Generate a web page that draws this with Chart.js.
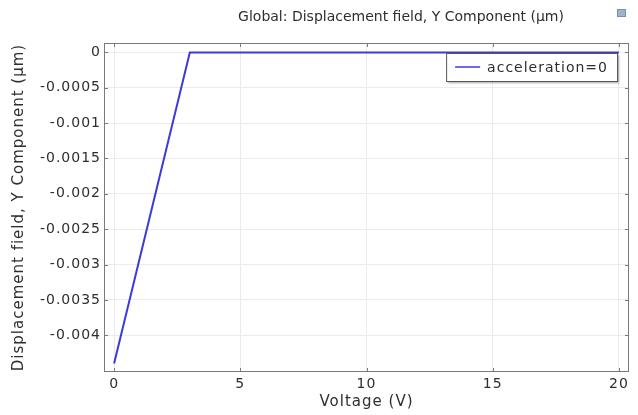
<!DOCTYPE html>
<html>
<head>
<meta charset="utf-8">
<script src="https://cdn.jsdelivr.net/npm/chart.js@4"></script>
<style>
  html, body { margin: 0; padding: 0; background: #ffffff; }
  #wrap { position: relative; width: 638px; height: 415px; }
  #icon { position: absolute; left: 617px; top: 9px; width: 7px; height: 6px;
          background: #9fb3cf; border: 1px solid #7890b2; }
</style>
</head>
<body>
<div id="wrap">
  <canvas id="c" width="638" height="415"></canvas>
  <div id="icon"></div>
</div>
<script>
// Parametric sweep: applied voltage (V) and resulting Y displacement (µm)
const voltage = [0, 3, 6, 9, 12, 15, 18, 20];
const displacementY = [-0.0044, 0, 0, 0, 0, 0, 0, 0];
const seriesLabel = 'acceleration=0';
const xTicks = [0, 5, 10, 15, 20];
const yTicks = [0, -0.0005, -0.001, -0.0015, -0.002, -0.0025, -0.003, -0.0035, -0.004];
const yTickLabels = ['0', '-0.0005', '-0.001', '-0.0015', '-0.002', '-0.0025', '-0.003', '-0.0035', '-0.004'];
const plotTitle = 'Global: Displacement field, Y Component (µm)';
const xTitle = 'Voltage (V)';
const yTitle = 'Displacement field, Y Component (µm)';

const FONT = 'DejaVu Sans';
const TEXT = '#2e2e2e';

// Slightly tracked-out lettering for all axis text
const spacingPlugin = {
  id: 'spacing',
  beforeDraw(chart) { chart.ctx.letterSpacing = '1px'; }
};

// Frame with inward tick marks, titles and boxed legend
const framePlugin = {
  id: 'frame',
  afterDatasetsDraw(chart) {
    const { ctx, chartArea: a, scales } = chart;
    ctx.save();
    ctx.strokeStyle = '#7a7a7a';
    ctx.lineWidth = 1;
    ctx.strokeRect(a.left + 0.5, a.top + 0.5, a.right - a.left - 1, a.bottom - a.top - 1);
    ctx.beginPath();
    const len = 4;
    xTicks.forEach(v => {
      const px = Math.round(scales.x.getPixelForValue(v)) + 0.5;
      ctx.moveTo(px, a.bottom); ctx.lineTo(px, a.bottom - len);
      ctx.moveTo(px, a.top); ctx.lineTo(px, a.top + len);
    });
    yTicks.forEach(v => {
      const py = Math.round(scales.y.getPixelForValue(v)) + 0.5;
      ctx.moveTo(a.left, py); ctx.lineTo(a.left + len, py);
      ctx.moveTo(a.right, py); ctx.lineTo(a.right - len, py);
    });
    ctx.stroke();

    // plot title
    ctx.fillStyle = TEXT;
    ctx.textAlign = 'center';
    ctx.textBaseline = 'middle';
    ctx.letterSpacing = '0px';
    ctx.font = '14px ' + FONT;
    ctx.fillText(plotTitle, 401, 17);

    // axis titles
    ctx.letterSpacing = '1px';
    ctx.font = '15px ' + FONT;
    ctx.fillText(xTitle, (a.left + a.right) / 2, 402);
    ctx.save();
    ctx.translate(19, (a.top + a.bottom) / 2);
    ctx.rotate(-Math.PI / 2);
    ctx.fillText(yTitle, 0, 0);
    ctx.restore();

    // legend box
    const ds = chart.data.datasets[0];
    ctx.font = '14px ' + FONT;
    ctx.textAlign = 'left';
    const tw = ctx.measureText(ds.label).width;
    const bw = tw + 50, bh = 28;
    const bx = a.right - 12 - bw, by = a.top + 10;
    ctx.shadowColor = 'rgba(0,0,0,0.35)';
    ctx.shadowOffsetX = 2; ctx.shadowOffsetY = 2; ctx.shadowBlur = 2;
    ctx.fillStyle = '#ffffff';
    ctx.fillRect(bx, by, bw, bh);
    ctx.shadowColor = 'transparent';
    ctx.strokeStyle = '#555555';
    ctx.strokeRect(bx + 0.5, by + 0.5, bw, bh);
    ctx.strokeStyle = ds.borderColor;
    ctx.lineWidth = 1.5;
    ctx.beginPath();
    ctx.moveTo(bx + 9, by + bh / 2); ctx.lineTo(bx + 34, by + bh / 2);
    ctx.stroke();
    ctx.fillStyle = TEXT;
    ctx.fillText(ds.label, bx + 41, by + bh / 2 + 1);
    ctx.restore();
  }
};

new Chart(document.getElementById('c'), {
  type: 'line',
  data: {
    datasets: [{
      label: seriesLabel,
      data: voltage.map((v, i) => ({ x: v, y: displacementY[i] })),
      borderColor: '#3b3bd8',
      borderWidth: 2,
      pointRadius: 0,
      tension: 0,
      fill: false
    }]
  },
  options: {
    responsive: false,
    animation: false,
    layout: { padding: { left: 0, right: 9, top: 43, bottom: 0 } },
    plugins: {
      legend: { display: false },
      tooltip: { enabled: false },
      title: { display: false }
    },
    scales: {
      x: {
        type: 'linear',
        min: -0.4,
        max: 20.4,
        afterBuildTicks(s) { s.ticks = xTicks.map(v => ({ value: v })); },
        afterFit(s) { s.height = 43; },
        grid: { color: '#ebebeb', drawTicks: false },
        border: { display: false },
        ticks: { color: TEXT, font: { family: FONT, size: 14 }, padding: 4, maxRotation: 0,
                 callback: v => String(v) }
      },
      y: {
        type: 'linear',
        min: -0.00452,
        max: 0.000133,
        afterBuildTicks(s) { s.ticks = yTicks.map(v => ({ value: v })); },
        afterFit(s) { s.width = 104; },
        grid: { color: '#ebebeb', drawTicks: false },
        border: { display: false },
        ticks: { color: TEXT, font: { family: FONT, size: 14 }, padding: 3,
                 callback: v => { const i = yTicks.indexOf(v); return i >= 0 ? yTickLabels[i] : ''; } }
      }
    }
  },
  plugins: [spacingPlugin, framePlugin]
});
</script>
</body>
</html>
